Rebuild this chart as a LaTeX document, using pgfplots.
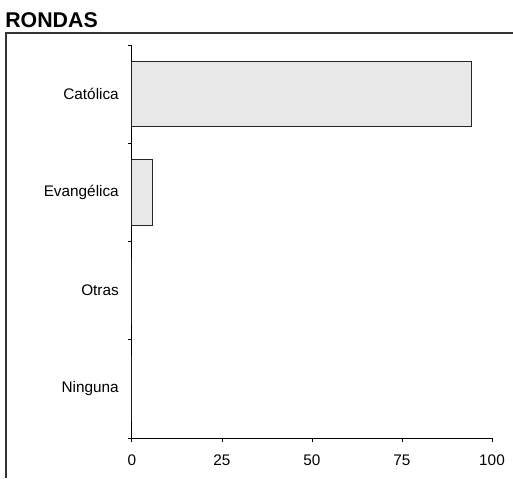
\documentclass[border=0pt]{standalone}
\usepackage{pgfplots}
\pgfplotsset{compat=1.18}
\usepackage{fontspec}
\setmainfont{Liberation Sans}
\begin{document}
\begin{tikzpicture}[x=0.6pt,y=0.6pt]
\useasboundingbox (0,0) rectangle (513,478);
\draw[line width=0.8pt, black!80] (5,445) -- (513,445);
\draw[line width=0.8pt, black!80] (6,445) -- (6,0);
\node[anchor=base west, inner sep=0pt, font=\bfseries\fontsize{12.8}{14}\selectfont] at (5,450) {RONDAS};
\begin{axis}[
  at={(79.2pt,24pt)}, anchor=south west,
  scale only axis, width=216pt, height=235.8pt,
  xbar, bar width=0.667,
  xmin=0, xmax=100, ymin=0.5, ymax=4.5,
  axis x line*=bottom, axis y line*=left,
  axis line style={-, line width=0.6pt},
  xtick={0,25,50,75,100},
  ytick={1,2,3,4},
  yticklabels={Ninguna,Otras,Evangélica,Católica},
  minor ytick={0.5,1.5,2.5,3.5,4.5},
  tick align=outside,
  major tick length=2.4pt, minor tick length=2.4pt,
  major y tick style={draw=none},
  tick style={black, line width=0.6pt},
  ticklabel style={font=\fontsize{9.2}{10}\selectfont},
  yticklabel style={xshift=-2pt},
  xticklabel style={yshift=-4pt},
  /pgf/number format/assume math mode=true,
]
\addplot[fill=black!9, draw=black!85, line width=0.6pt] coordinates {(0,1) (0,2) (5.6,3) (94.4,4)};
\end{axis}
\end{tikzpicture}
\end{document}
